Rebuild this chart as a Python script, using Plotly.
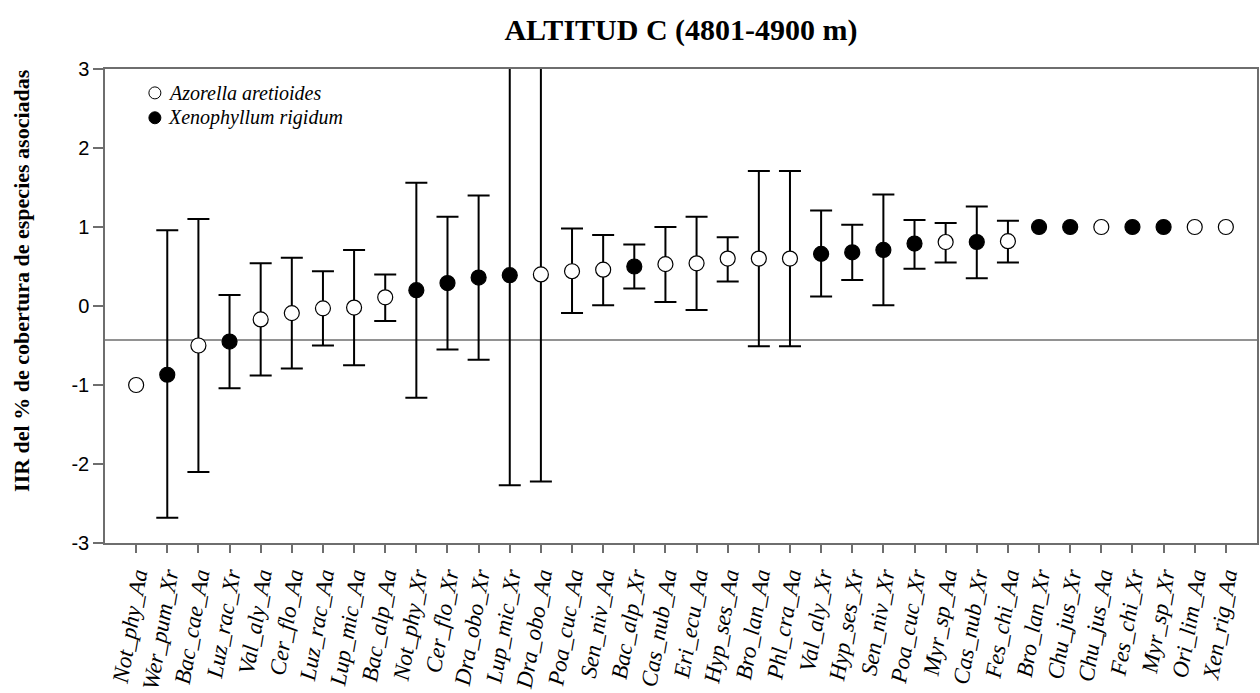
import plotly.graph_objects as go

# Species pairs (associated species _ nurse plant: Aa = Azorella aretioides, Xr = Xenophyllum rigidum)
categories = [
    "Not_phy_Aa", "Wer_pum_Xr", "Bac_cae_Aa", "Luz_rac_Xr", "Val_aly_Aa", "Cer_flo_Aa",
    "Luz_rac_Aa", "Lup_mic_Aa", "Bac_alp_Aa", "Not_phy_Xr", "Cer_flo_Xr", "Dra_obo_Xr",
    "Lup_mic_Xr", "Dra_obo_Aa", "Poa_cuc_Aa", "Sen_niv_Aa", "Bac_alp_Xr", "Cas_nub_Aa",
    "Eri_ecu_Aa", "Hyp_ses_Aa", "Bro_lan_Aa", "Phl_cra_Aa", "Val_aly_Xr", "Hyp_ses_Xr",
    "Sen_niv_Xr", "Poa_cuc_Xr", "Myr_sp_Aa", "Cas_nub_Xr", "Fes_chi_Aa", "Bro_lan_Xr",
    "Chu_jus_Xr", "Chu_jus_Aa", "Fes_chi_Xr", "Myr_sp_Xr", "Ori_lim_Aa", "Xen_rig_Aa",
]

# Mean IIR per species pair
iir = [
    -1.00, -0.87, -0.50, -0.45, -0.17, -0.09,
    -0.03, -0.02, 0.11, 0.20, 0.29, 0.36,
    0.39, 0.40, 0.44, 0.46, 0.50, 0.53,
    0.54, 0.60, 0.60, 0.60, 0.66, 0.68,
    0.71, 0.79, 0.81, 0.81, 0.82, 1.00,
    1.00, 1.00, 1.00, 1.00, 1.00, 1.00,
]

# Confidence interval limits (None where no interval was computed)
ci_upper = [
    None, 0.96, 1.10, 0.14, 0.54, 0.61,
    0.44, 0.71, 0.40, 1.56, 1.13, 1.40,
    3.05, 3.04, 0.98, 0.90, 0.78, 1.00,
    1.13, 0.87, 1.71, 1.71, 1.21, 1.03,
    1.41, 1.09, 1.05, 1.26, 1.08, None,
    None, None, None, None, None, None,
]
ci_lower = [
    None, -2.68, -2.10, -1.04, -0.88, -0.79,
    -0.50, -0.75, -0.19, -1.16, -0.55, -0.68,
    -2.27, -2.22, -0.09, 0.01, 0.22, 0.05,
    -0.05, 0.31, -0.51, -0.51, 0.12, 0.33,
    0.01, 0.47, 0.55, 0.35, 0.55, None,
    None, None, None, None, None, None,
]

# Horizontal reference level
reference_level = -0.43

y_ticks = [-3, -2, -1, 0, 1, 2, 3]
y_tick_labels = ["-3", "-2", "-1", "0", "1", "2", "3"]

nurse_codes = ["Aa", "Xr"]
nurse_names = {"Aa": "Azorella aretioides", "Xr": "Xenophyllum rigidum"}
nurse_fill = {"Aa": "white", "Xr": "black"}

SERIF = "Liberation Serif"
SANS = "Liberation Sans"

fig = go.Figure()

for code in nurse_codes:
    idx = [i for i, c in enumerate(categories) if c.endswith("_" + code)]
    with_ci = [i for i in idx if ci_upper[i] is not None]
    without_ci = [i for i in idx if ci_upper[i] is None]
    marker = dict(symbol="circle", size=15, color=nurse_fill[code],
                  line=dict(color="black", width=1.2))

    # Points with confidence intervals
    fig.add_trace(go.Scatter(
        x=[categories[i] for i in with_ci],
        y=[iir[i] for i in with_ci],
        mode="markers",
        name=nurse_names[code],
        showlegend=False,
        marker=marker,
        error_y=dict(
            type="data",
            symmetric=False,
            array=[ci_upper[i] - iir[i] for i in with_ci],
            arrayminus=[iir[i] - ci_lower[i] for i in with_ci],
            color="black",
            thickness=2,
            width=11,
        ),
    ))
    # Points without intervals
    fig.add_trace(go.Scatter(
        x=[categories[i] for i in without_ci],
        y=[iir[i] for i in without_ci],
        mode="markers",
        name=nurse_names[code],
        showlegend=False,
        marker=marker,
    ))

fig.add_shape(
    type="line", xref="paper", x0=0, x1=1, yref="y",
    y0=reference_level, y1=reference_level,
    line=dict(color="#6e6e6e", width=1.5), layer="below",
)

# Legend: symbol + italic species name, one row per nurse plant
legend_x = 0.0433
legend_rows = [0.9496, 0.8971]
for code, row_y in zip(nurse_codes, legend_rows):
    fig.add_shape(
        type="circle", xref="paper", yref="paper",
        xsizemode="pixel", ysizemode="pixel",
        xanchor=legend_x, yanchor=row_y,
        x0=-6, x1=6, y0=-6, y1=6,
        fillcolor=nurse_fill[code], line=dict(color="black", width=1),
    )
    fig.add_annotation(
        text="<i>" + nurse_names[code] + "</i>",
        xref="paper", yref="paper", x=legend_x + 0.0095, y=row_y,
        xanchor="left", yanchor="middle", showarrow=False,
        font=dict(family=SERIF, size=20, color="black"),
    )

fig.add_annotation(
    text="<b>IIR del % de cobertura de especies asociadas</b>",
    xref="paper", yref="paper", x=-0.072, y=0.553,
    xanchor="center", yanchor="middle", textangle=-90, showarrow=False,
    font=dict(family=SERIF, size=22, color="black"),
)

fig.update_layout(
    width=1260, height=693,
    margin=dict(l=105, r=1, t=69, b=148),
    paper_bgcolor="white", plot_bgcolor="white",
    showlegend=False,
    title=dict(
        text="<b>ALTITUD C (4801-4900 m)</b>",
        x=0.5, xref="paper", xanchor="center",
        y=0.957, yref="container", yanchor="middle",
        font=dict(family=SERIF, size=30, color="black"),
    ),
)

fig.update_xaxes(
    type="category",
    categoryorder="array", categoryarray=categories,
    range=[-1, len(categories)],
    tickangle=-80,
    tickfont=dict(family=SERIF, size=23, color="black", style="italic"),
    ticks="outside", ticklen=8, tickwidth=1.5, tickcolor="#6e6e6e",
    showline=True, linecolor="#6e6e6e", linewidth=1.5, mirror=True,
    showgrid=False, zeroline=False,
)

fig.update_yaxes(
    range=[-3, 3],
    tickvals=y_ticks, ticktext=y_tick_labels,
    tickfont=dict(family=SANS, size=20, color="black"),
    ticks="outside", ticklen=10, tickwidth=1.5, tickcolor="#6e6e6e",
    showline=True, linecolor="#6e6e6e", linewidth=1.5, mirror=True,
    showgrid=False, zeroline=False,
)

fig.write_html("out.html")
